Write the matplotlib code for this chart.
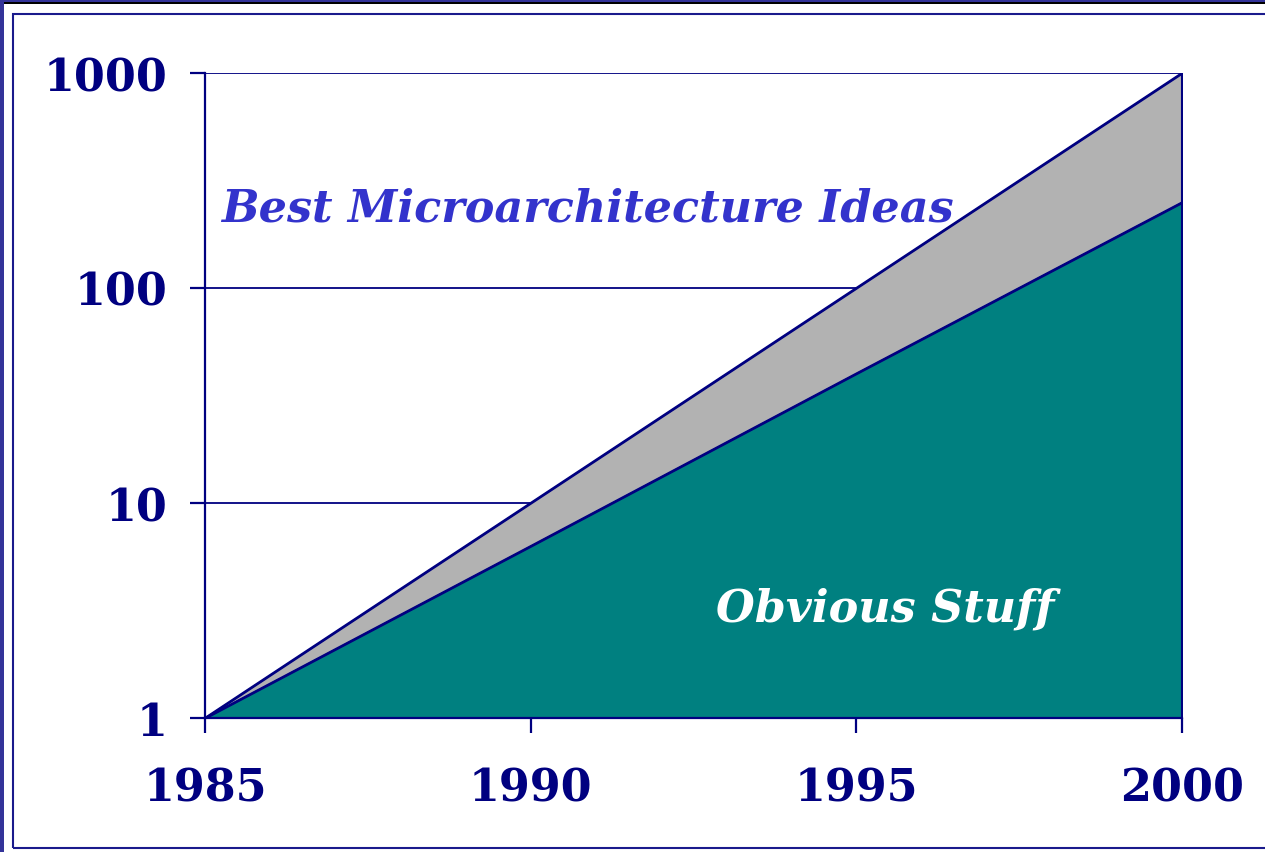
import matplotlib.pyplot as plt
from matplotlib.patches import Rectangle

# data
years = [1985, 1990, 1995, 2000]
best_ideas = [1, 10, 100, 1000]
obvious = [1, 6.3, 40, 250]
y_ticks = [1, 10, 100, 1000]

NAVY = "#000080"
FONT = "DejaVu Serif"

fig = plt.figure(figsize=(12.65, 8.53), dpi=100, facecolor="white")

# slide-like frame
fig.patches.append(Rectangle((13 / 1265, 1 - 849 / 853), 1.0, (849 - 15) / 853,
                             transform=fig.transFigure, fill=False,
                             edgecolor="#1a1a8c", linewidth=1.5))
fig.patches.append(Rectangle((0, 1 - 3 / 853), 1.0, 3 / 853, transform=fig.transFigure,
                             facecolor="#333399", edgecolor="none"))
fig.patches.append(Rectangle((0, 1 - 5 / 853), 1.0, 2 / 853, transform=fig.transFigure,
                             facecolor="black", edgecolor="none"))
fig.patches.append(Rectangle((0, 0), 4 / 1265, 1.0, transform=fig.transFigure,
                             facecolor="#333399", edgecolor="none"))

ax = fig.add_axes([205 / 1265, 1 - 719 / 853, (1182 - 205) / 1265, (719 - 74) / 853])
ax.set_yscale("log")
ax.set_xlim(1985, 2000)
ax.set_ylim(1, 1000)

ax.fill_between(years, obvious, best_ideas, facecolor="#b2b2b2", edgecolor=NAVY, linewidth=1.5)
ax.fill_between(years, 1, obvious, facecolor="#008080", edgecolor=NAVY, linewidth=1.5)
ax.plot(years, best_ideas, color=NAVY, lw=1.5)
ax.plot(years, obvious, color=NAVY, lw=1.5)
ax.plot([2000, 2000], [1, 1000], color=NAVY, lw=1.5)

for v in y_ticks[1:]:
    ax.axhline(v, color=NAVY, lw=1.3, zorder=0)

for s in ["top", "right"]:
    ax.spines[s].set_visible(False)
for s in ["left", "bottom"]:
    ax.spines[s].set_color(NAVY)
    ax.spines[s].set_linewidth(1.6)

ax.set_xticks(years)
ax.set_xticklabels([str(y) for y in years])
ax.set_yticks(y_ticks)
ax.set_yticklabels([str(v) for v in y_ticks])
ax.minorticks_off()
ax.tick_params(axis="both", color=NAVY, length=11, width=1.6, labelcolor=NAVY)
ax.tick_params(axis="x", pad=24)
ax.tick_params(axis="y", pad=16)
for lab in ax.get_xticklabels() + ax.get_yticklabels():
    lab.set_fontfamily(FONT)
    lab.set_fontweight("bold")
    lab.set_fontsize(32)

ax.text(1985.25, 205, "Best Microarchitecture Ideas", color="#3333cc", family=FONT,
        weight="bold", style="italic", fontsize=32, va="baseline", ha="left")
ax.text(1992.85, 2.83, "Obvious Stuff", color="white", family=FONT,
        weight="bold", style="italic", fontsize=32, va="baseline", ha="left")

fig.savefig("out.png", dpi=100, facecolor="white")
